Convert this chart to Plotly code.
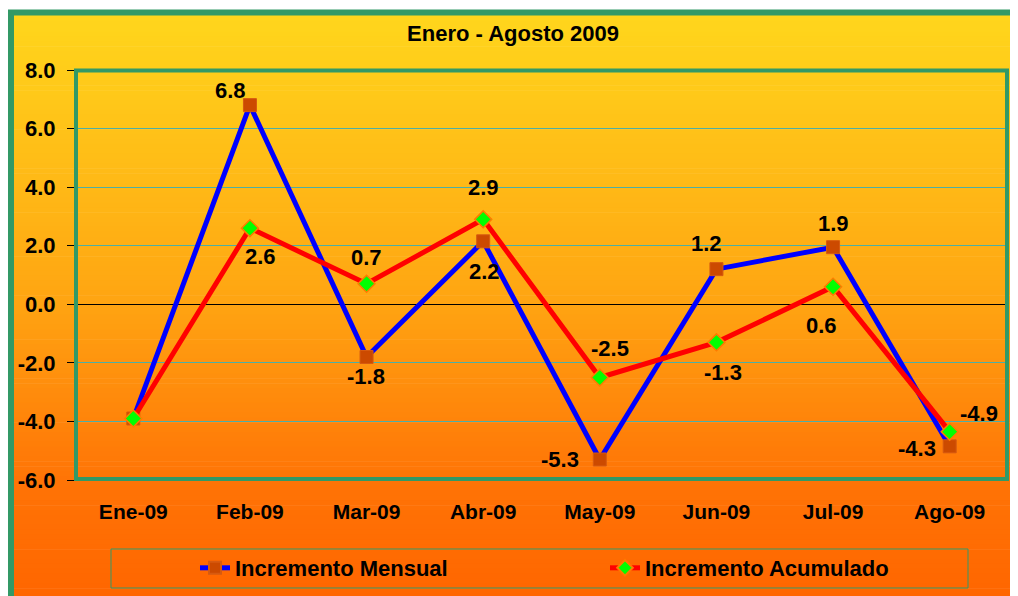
import plotly.graph_objects as go

categories = ["Ene-09", "Feb-09", "Mar-09", "Abr-09", "May-09", "Jun-09", "Jul-09", "Ago-09"]
mensual = [-3.9, 6.8, -1.8, 2.15, -5.3, 1.2, 1.95, -4.85]
acumulado = [-3.9, 2.6, 0.7, 2.9, -2.5, -1.3, 0.6, -4.35]
mensual_labels = ["", "6.8", "-1.8", "2.2", "-5.3", "1.2", "1.9", "-4.3"]
acumulado_labels = ["", "2.6", "0.7", "2.9", "-2.5", "-1.3", "0.6", "-4.9"]
y_tickvals = [-6, -4, -2, 0, 2, 4, 6, 8]
y_ticktext = ["-6.0", "-4.0", "-2.0", "0.0", "2.0", "4.0", "6.0", "8.0"]
title = "Enero - Agosto 2009"

# label offsets from the marker (style: px right, px down)
mensual_off = [(0, 0), (-19, -15), (-1, 19), (1, 30), (-40, 0), (-10, -26), (0, -24), (-33, 2)]
acumulado_off = [(0, 0), (11, 28), (0, -26), (0, -32), (10, -29), (7, 30), (-12, 39), (29, -18)]

# page offset (body margin) = 8px
OFF = 8
PAGE_W, PAGE_H = 1018, 596
W, H = PAGE_W - OFF, PAGE_H - OFF
PL, PR, PT, PB = 75, 1008, 70, 480   # plot area in page pixels
L, R, T, B = PL - OFF, PAGE_W - PR, PT - OFF, PAGE_H - PB
PW, PH = PR - PL, PB - PT
FONT = "Liberation Sans, Arial, sans-serif"
GREEN = "#339966"


def px2x(px):
    return (px - PL) / PW


def px2y(py):
    return (PB - py) / PH


def grad(py):
    stops = [(15, (255, 214, 28)), (300, (255, 165, 18)), (480, (255, 116, 6)), (596, (255, 102, 0))]
    if py <= stops[0][0]:
        return stops[0][1]
    for (a, ca), (b, cb) in zip(stops, stops[1:]):
        if py <= b:
            f = (py - a) / (b - a)
            return tuple(round(ca[i] + (cb[i] - ca[i]) * f) for i in range(3))
    return stops[-1][1]


shapes = []
n = 120
y0px, y1px = 12, PAGE_H + 2
step = (y1px - y0px) / n
for i in range(n):
    a = y0px + i * step
    b = a + step + 0.6
    c = grad(a + step / 2)
    shapes.append(dict(type="rect", xref="paper", yref="paper", layer="below",
                       x0=px2x(11), x1=px2x(PAGE_W + 5), y0=px2y(a), y1=px2y(b),
                       fillcolor="rgb(%d,%d,%d)" % c, line=dict(width=0)))
# outer border
shapes.append(dict(type="rect", xref="paper", yref="paper", layer="above",
                   x0=px2x(11), x1=px2x(PAGE_W + 20), y0=px2y(12.5), y1=px2y(PAGE_H + 20),
                   fillcolor="rgba(0,0,0,0)", line=dict(color=GREEN, width=6)))
# plot area border
shapes.append(dict(type="rect", xref="paper", yref="paper", layer="above",
                   x0=px2x(76), x1=px2x(1007), y0=px2y(70.5), y1=px2y(479),
                   fillcolor="rgba(0,0,0,0)", line=dict(color=GREEN, width=4)))
# legend box
shapes.append(dict(type="rect", xref="paper", yref="paper", layer="above",
                   x0=px2x(111), x1=px2x(968), y0=px2y(549), y1=px2y(588),
                   fillcolor="rgba(0,0,0,0)", line=dict(color=GREEN, width=1)))

fig = go.Figure()
fig.add_trace(go.Scatter(
    x=categories, y=mensual, name="Incremento Mensual", mode="lines+markers",
    line=dict(color="#0000FF", width=5),
    marker=dict(symbol="square", size=13, color="#CC4A00", line=dict(color="#D65A10", width=1)),
    cliponaxis=False,
))
fig.add_trace(go.Scatter(
    x=categories, y=acumulado, name="Incremento Acumulado", mode="lines+markers",
    line=dict(color="#FF0000", width=5),
    marker=dict(symbol="diamond", size=13, color="#00FF00", line=dict(color="#FF7A00", width=1.5)),
    cliponaxis=False,
))

annotations = []
for vals, labels, offs in ((mensual, mensual_labels, mensual_off),
                           (acumulado, acumulado_labels, acumulado_off)):
    for cat, v, lab, (dx, dy) in zip(categories, vals, labels, offs):
        if not lab:
            continue
        annotations.append(dict(x=cat, y=v, xref="x", yref="y", text=lab, showarrow=False,
                                xanchor="center", yanchor="middle", xshift=dx, yshift=-dy,
                                font=dict(family=FONT, size=22, color="black", weight="bold")))

fig.update_layout(
    width=W, height=H,
    margin=dict(l=L, r=R, t=T, b=B, autoexpand=False),
    paper_bgcolor="white",
    plot_bgcolor="rgba(0,0,0,0)",
    shapes=shapes,
    annotations=annotations,
    title=dict(text=title, x=(513 - OFF) / W, xanchor="center", y=1 - (33 - OFF) / H, yanchor="middle",
               font=dict(family=FONT, size=22, color="black", weight="bold")),
    showlegend=True,
    legend=dict(orientation="h", x=px2x(195), xanchor="left", y=px2y(568), yanchor="middle",
                bgcolor="rgba(0,0,0,0)", borderwidth=0, entrywidth=365, entrywidthmode="pixels",
                font=dict(family=FONT, size=22, color="black", weight="bold"),
                itemsizing="constant"),
    xaxis=dict(type="category", range=[-0.5, 7.5], showgrid=False, showline=False, zeroline=False,
               ticks="", tickfont=dict(family=FONT, size=21, color="black", weight="bold"),
               ticklabelstandoff=17),
    yaxis=dict(range=[-6, 8], tickvals=y_tickvals, ticktext=y_ticktext, showgrid=True,
               gridcolor="#4DAFA5", gridwidth=1, zeroline=True, zerolinecolor="black",
               zerolinewidth=1, showline=True, linecolor="black", linewidth=1,
               ticks="outside", ticklen=7, tickcolor="black", ticklabelstandoff=7,
               tickfont=dict(family=FONT, size=22, color="black", weight="bold")),
)

fig.write_html("out.html")
